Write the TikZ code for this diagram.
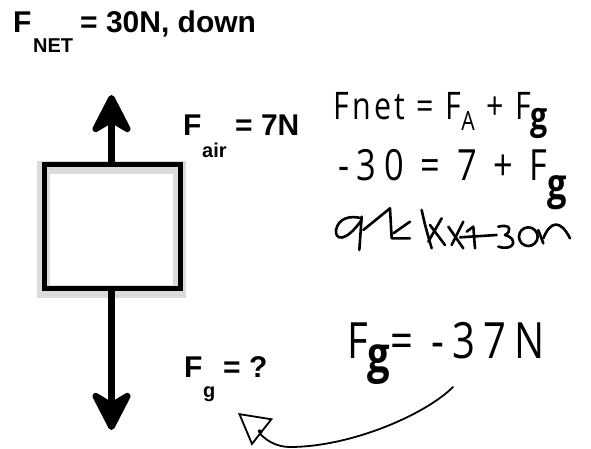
\documentclass[tikz,border=0pt]{standalone}
\usepackage{fontspec}
\setmainfont{Liberation Sans}
\newfontfamily\handfont[FakeStretch=0.8]{Open Sans}
\usetikzlibrary{arrows.meta, positioning, calc}
\tikzset{
  % Printed labels
  plabel/.style={anchor=base west, inner sep=0pt,
    font=\fontsize{30}{30}\selectfont\bfseries},
  psub/.style={anchor=base west, inner sep=0pt,
    font=\fontsize{20}{20}\selectfont\bfseries},
  % Handwritten notes
  hnote/.style={anchor=base west, inner sep=0pt,
    font=\fontsize{38}{38}\selectfont\handfont},
  % The body and its shade
  body/.style={rectangle, draw=black, line width=5pt,
    minimum width=135.5pt, minimum height=123.5pt, inner sep=0pt},
  bodyshade/.style={body, draw=gray!28, line width=13pt, fill=white},
  % Force arrows
  force/.style={line width=6.5pt,
    -{Stealth[length=46pt, width=47pt, inset=14pt, round]}},
  % Pen strokes
  pen/.style={line width=1.8pt, line cap=round, line join=round},
  scrawl/.style={pen, line width=2.6pt},
}
\begin{document}
\begin{tikzpicture}[x=1pt, y=-1pt]
  \useasboundingbox (0,0) rectangle (591,449);

  %% Net force
  \node[plabel] (fnet) at (13,33) {F};
  \node[psub] (fnetsub) at (33,53) {NET};
  \node[plabel] (fnetval) at (80,33) {= 30N, down};

  %% Body
  \node[bodyshade] (shade) at (111.25,229.25) {};
  \node[body] (block) at (112.25,226.25) {};

  %% Forces
  \coordinate (airtip) at (111.5,95);
  \coordinate (gravtip) at (111.5,430);
  \draw[force] (block.north -| airtip) -- (airtip);
  \draw[force] (block.south -| gravtip) -- (gravtip);

  \node[plabel] (fair) at (183,136) {F};
  \node[psub] (fairsub) at (202,158) {air};
  \node[plabel] (fairval) at (235,136) {= 7N};

  \node[plabel] (fg) at (184,377) {F};
  \node[psub] (fgsub) at (203,397) {g};
  \node[plabel] (fgval) at (223,377) {= ?};

  %% Handwritten working
  \node[hnote, font=\fontsize{38}{38}\selectfont\handfont\addfontfeatures{LetterSpace=9}]
    (neteq) at (333,120) {Fnet = F\textsubscript{A} + F\raisebox{-10pt}{\bfseries g}};
  \node[hnote, font=\fontsize{43}{43}\selectfont\handfont\addfontfeatures{LetterSpace=18}]
    (sumeq) at (338,180) {-30 = 7 + F\raisebox{-20pt}{\bfseries g}};

  % scribbled-out line
  \begin{scope}[shift={(330,205)}, x=0.3333pt, y=-0.3333pt]
    \draw[scrawl] (95,40) .. controls (60,30) and (25,40) .. (18,75)
      .. controls (15,105) and (45,115) .. (95,45);
    \draw[scrawl] (95,35) -- (88,135);
    \draw[scrawl] (100,75) -- (180,10) -- (185,100) -- (240,100);
    \draw[scrawl] (190,85) -- (240,50);
    \draw[scrawl] (275,15) .. controls (285,60) .. (305,130);
    \draw[scrawl] (300,60) -- (345,120);
    \draw[scrawl] (335,40) -- (295,110);
    \draw[scrawl] (355,65) -- (400,130);
    \draw[scrawl] (400,50) -- (365,120);
    \draw[scrawl] (410,80) -- (430,65) -- (435,130);
    \draw[scrawl] (390,97) -- (500,90);
    \draw[scrawl] (505,65) .. controls (545,55) and (545,80) .. (525,90)
      .. controls (565,100) and (555,140) .. (505,125);
    \draw[scrawl] (595,95) ellipse [x radius=28, y radius=28];
    \draw[scrawl] (625,75) -- (640,115);
    \draw[scrawl] (640,100) .. controls (660,50) and (690,40) .. (720,100);
  \end{scope}

  \node[hnote, font=\fontsize{50}{50}\selectfont\handfont\addfontfeatures{LetterSpace=16}]
    (answer) at (347,358) {F\raisebox{-14pt}{\bfseries g}= -37N};

  %% Pointer back to the unknown
  \coordinate (penstart) at (453,387);
  \coordinate (penlow) at (290,447);
  \coordinate (pentip) at (238,413);
  \draw[pen] (penstart) .. controls (425,415) and (350,447) .. (penlow);
  \draw[pen, -{Triangle[open, length=31pt, width=34pt]}]
    (penlow) .. controls (265,447) and (252,424) .. (pentip);

\end{tikzpicture}
\end{document}
